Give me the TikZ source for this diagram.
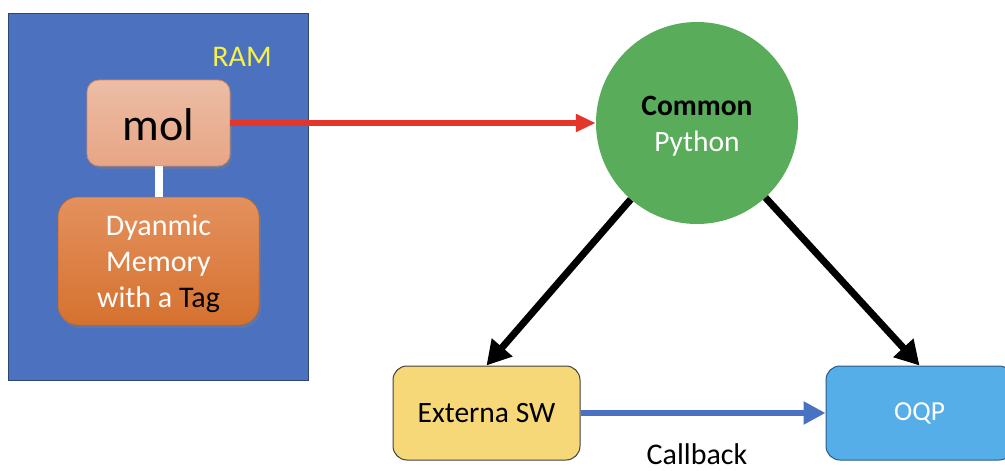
\documentclass[tikz,border=0pt]{standalone}
\usepackage{fontspec}
\setmainfont{Carlito}
\usetikzlibrary{arrows.meta,shadows}
\definecolor{ramblue}{HTML}{4C72BF}
\definecolor{ramedge}{HTML}{2C4770}
\definecolor{moltop}{HTML}{ECBDA5}
\definecolor{molbot}{HTML}{E8A585}
\definecolor{moledge}{HTML}{D98A5E}
\definecolor{dyntop}{HTML}{E4915E}
\definecolor{dynbot}{HTML}{D5712F}
\definecolor{pygreen}{HTML}{59AC5A}
\definecolor{extyellow}{HTML}{F7D878}
\definecolor{oqpblue}{HTML}{55AEE8}
\definecolor{oqpedge}{HTML}{2A5A86}
\definecolor{arrred}{HTML}{E5342A}
\definecolor{arrblue}{HTML}{4A72C2}
\definecolor{ramtext}{HTML}{F6F04A}
\tikzset{
  molbox/.style={draw=moledge, line width=0.8pt, rounded corners=12pt,
    top color=moltop, bottom color=molbot, minimum width=143pt, minimum height=86pt,
    drop shadow={opacity=0.35, shadow xshift=2pt, shadow yshift=-3pt}},
  dynbox/.style={draw=dynbot!90!black, line width=0.5pt, rounded corners=20pt,
    top color=dyntop, bottom color=dynbot, minimum width=201pt, minimum height=128pt,
    drop shadow={opacity=0.35, shadow xshift=2pt, shadow yshift=-3pt}},
  swbox/.style={draw=#1, line width=1pt, rounded corners=14pt,
    minimum width=187pt, minimum height=94pt},
  blkarrow/.style={line width=7pt, -{Triangle[length=24pt,width=26pt]}},
}
\begin{document}
\begin{tikzpicture}[x=1pt,y=-1pt]
\useasboundingbox (0,0) rectangle (1005,471);
\begin{scope}
\clip (0,0) rectangle (1005,471);

% memory block
\node[draw=ramedge, line width=1pt, fill=ramblue, minimum width=300pt, minimum height=367pt,
  inner sep=0pt] (ram) at (158,196.5) {};
\node[text=ramtext, font=\fontsize{30}{34}\selectfont] (ramlbl) at (242,57) {RAM};

\node[molbox] (mol) at (158.5,123) {};
\node[font=\fontsize{46}{50}\selectfont] (moltxt) at (158.5,125) {mol};
\node[dynbox] (dyn) at (158.5,261) {};
\node[align=center, text=white, font=\fontsize{30}{36}\selectfont] (dyntxt) at (158.5,264)
  {Dyanmic\\Memory\\with a \textcolor{black}{Tag}};
\draw[white, line width=8pt] (mol.south) -- (dyn.north);

% central module
\node[circle, fill=pygreen, minimum size=202pt, inner sep=0pt] (py) at (697,123) {};
\node[align=center, font=\fontsize{29.5}{36}\selectfont] (pytxt) at (697,126)
  {\textbf{Common}\\\textcolor{white}{Python}};

% consumers
\node[swbox=black!75, fill=extyellow, font=\fontsize{29.5}{34}\selectfont] (ext) at (486.5,413) {Externa SW};
\node[swbox=oqpedge, fill=oqpblue, text=white, font=\fontsize{27.5}{32}\selectfont] (oqp) at (919.5,413) {OQP};

% connectors
\draw[arrred, line width=5.5pt, -{Triangle[length=20pt,width=17pt]}] (mol.east) -- (py.west);
\draw[blkarrow] (py) -- (ext.north);
\draw[blkarrow] (py) -- (oqp.north);
\draw[arrblue, line width=6.5pt, -{Triangle[length=22pt,width=22pt]}] (ext.east) -- (oqp.west);
\end{scope}
\node[font=\fontsize{30}{34}\selectfont, anchor=base, inner sep=0.5pt] (cb) at (697,464) {Callback};
\end{tikzpicture}
\end{document}
